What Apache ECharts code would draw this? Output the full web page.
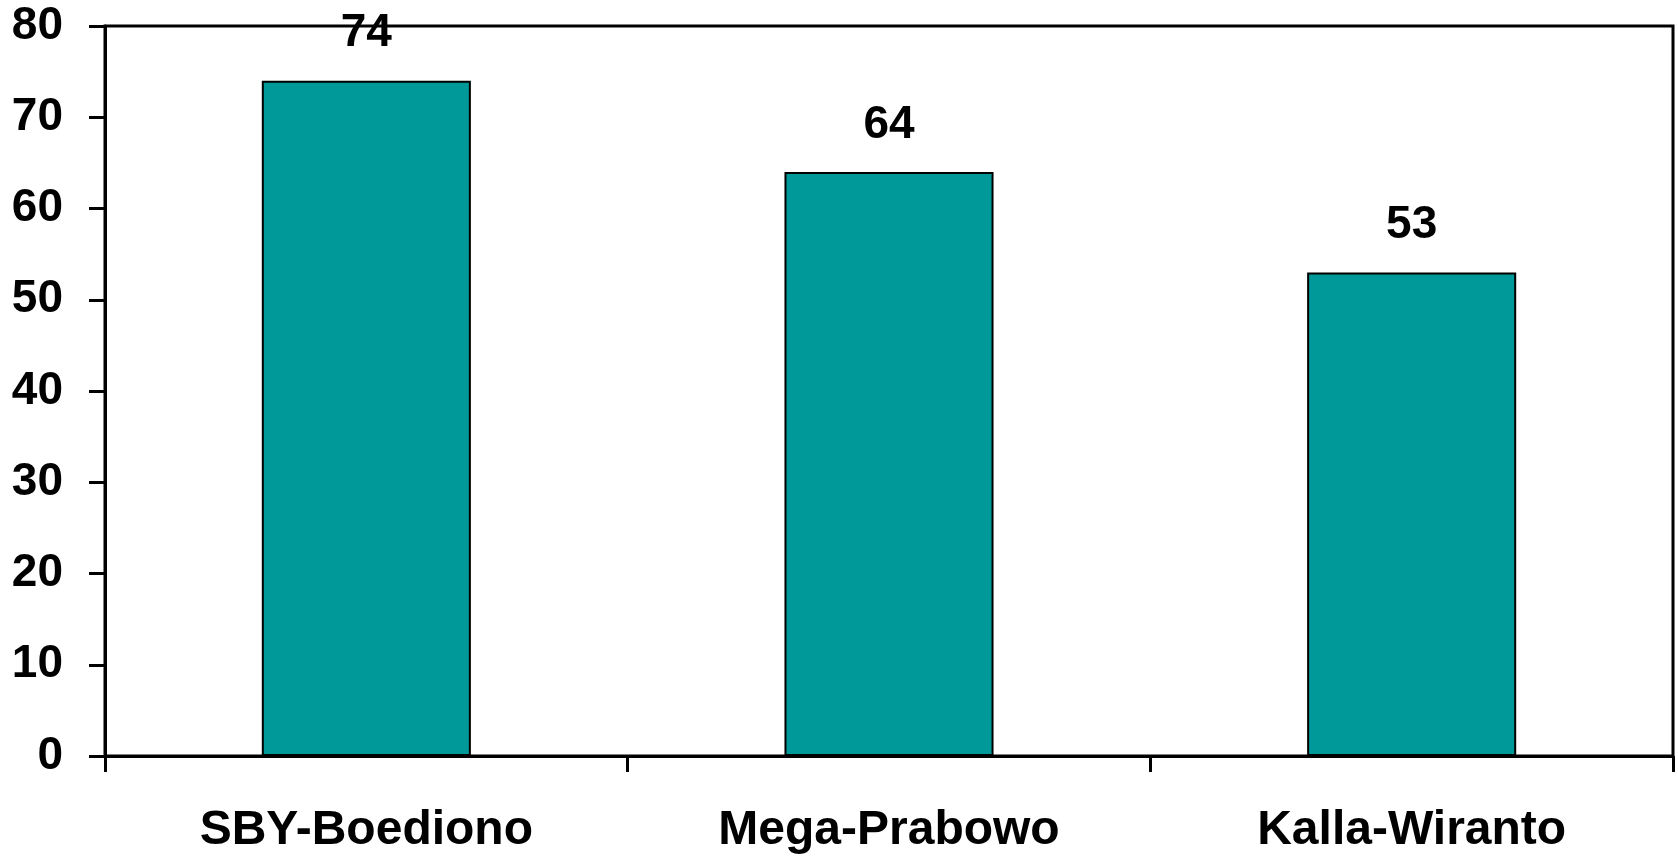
<!DOCTYPE html>
<html>
<head>
<meta charset="utf-8">
<script src="https://cdn.jsdelivr.net/npm/echarts@6/dist/echarts.min.js"></script>
<style>
  html, body { margin: 0; padding: 0; background: #ffffff; }
  #chart { width: 1678px; height: 856px; }
</style>
</head>
<body>
<div id="chart"></div>
<script>
// Candidate pairs and their scores
const categories = ['SBY-Boediono', 'Mega-Prabowo', 'Kalla-Wiranto'];
const values = [74, 64, 53];
const yTicks = { min: 0, max: 80, interval: 10 };

const font = '"Liberation Sans", Arial, sans-serif';

const chart = echarts.init(document.getElementById('chart'), null, { renderer: 'canvas' });
chart.setOption({
  animation: false,
  backgroundColor: '#ffffff',
  grid: {
    left: 105, right: 5, top: 26, bottom: 100,
    show: true, borderColor: '#000000', borderWidth: 3, backgroundColor: 'transparent'
  },
  xAxis: {
    type: 'category',
    data: categories,
    boundaryGap: true,
    axisLine: { lineStyle: { color: '#000000', width: 3 } },
    axisTick: { show: true, length: 16, lineStyle: { color: '#000000', width: 3 } },
    axisLabel: {
      color: '#000000', fontFamily: font, fontWeight: 'bold', fontSize: 48, margin: 51
    },
    splitLine: { show: false }
  },
  yAxis: {
    type: 'value',
    min: yTicks.min, max: yTicks.max, interval: yTicks.interval,
    axisLine: { show: true, lineStyle: { color: '#000000', width: 3 } },
    axisTick: { show: true, length: 16, lineStyle: { color: '#000000', width: 3 } },
    axisLabel: {
      color: '#000000', fontFamily: font, fontWeight: 'bold', fontSize: 46, margin: 42
    },
    splitLine: { show: false }
  },
  series: [{
    type: 'bar',
    data: values,
    barWidth: '40%',
    itemStyle: { color: '#009999', borderColor: '#000000', borderWidth: 2 },
    label: {
      show: true, position: 'top', distance: 24,
      color: '#000000', fontFamily: font, fontWeight: 'bold', fontSize: 46
    }
  }]
});
</script>
</body>
</html>
